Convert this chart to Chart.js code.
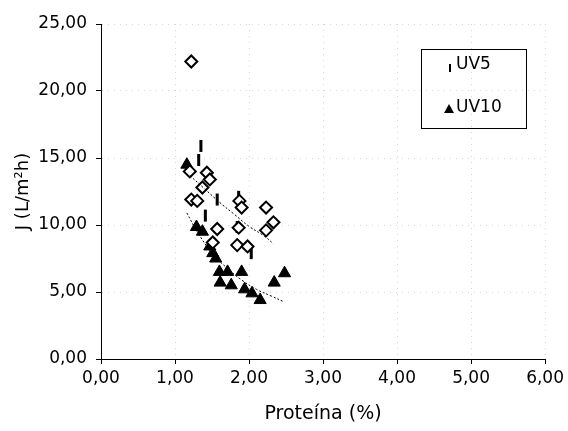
<!DOCTYPE html>
<html>
<head>
<meta charset="utf-8">
<script src="https://cdn.jsdelivr.net/npm/chart.js@4/dist/chart.umd.min.js"></script>
<style>
  html, body { margin: 0; padding: 0; background: #fff; }
  #wrap { width: 568px; height: 431px; }
</style>
</head>
<body>
<div id="wrap"><canvas id="fluxChart" width="568" height="431"></canvas></div>
<script>
// valores
const xTicks = [0, 1, 2, 3, 4, 5, 6];
const yTicks = [0, 5, 10, 15, 20, 25];

const protDiamond = [1.22, 1.20, 1.43, 1.47, 1.37, 1.22, 1.30, 1.87, 1.90, 2.23, 1.57, 1.86, 2.33, 2.23, 1.84, 1.98, 1.51];
const jDiamond    = [22.2, 14.0, 13.9, 13.4, 12.8, 11.9, 11.8, 11.8, 11.3, 11.3, 9.7, 9.8, 10.2, 9.6, 8.5, 8.4, 8.7];

const protUV5 = [1.35, 1.32, 1.57, 1.86, 1.41, 1.84, 2.03];
const jUV5    = [15.9, 14.85, 11.9, 12.1, 10.7, 9.85, 7.9];

const protUV10 = [1.16, 1.29, 1.37, 1.47, 1.51, 1.55, 1.60, 1.71, 1.90, 1.61, 1.76, 1.94, 2.04, 2.15, 2.34, 2.48];
const jUV10    = [14.5, 9.85, 9.5, 8.4, 7.9, 7.5, 6.5, 6.5, 6.5, 5.7, 5.5, 5.2, 4.9, 4.4, 5.7, 6.4];

// líneas de tendencia (puntos leídos sobre las curvas punteadas)
const protTrendUp = [1.2, 1.4, 1.6, 1.8, 2.0, 2.2, 2.33];
const jTrendUp    = [13.7, 12.7, 11.7, 10.8, 9.9, 9.2, 8.6];
const protTrendLow = [1.16, 1.3, 1.5, 1.7, 1.9, 2.1, 2.3, 2.48];
const jTrendLow    = [10.9, 9.5, 7.9, 6.8, 5.9, 5.2, 4.7, 4.25];

const pts = (xs, ys) => xs.map((x, i) => ({ x: x, y: ys[i] }));
const fmt = v => Number(v).toFixed(2).replace('.', ',');
const FONT = 'DejaVu Sans';

const legendBox = {
  id: 'legendBox',
  afterDraw(chart) {
    const ctx = chart.ctx;
    ctx.save();
    ctx.strokeStyle = '#000';
    ctx.lineWidth = 1;
    ctx.strokeRect(421.5, 49.5, 105, 79);
    // UV5
    ctx.lineWidth = 2;
    ctx.beginPath();
    ctx.moveTo(450, 64);
    ctx.lineTo(450, 72);
    ctx.stroke();
    // UV10
    ctx.fillStyle = '#000';
    ctx.beginPath();
    ctx.moveTo(449, 104);
    ctx.lineTo(454, 113);
    ctx.lineTo(444, 113);
    ctx.closePath();
    ctx.fill();
    ctx.font = '17px "' + FONT + '"';
    ctx.textBaseline = 'middle';
    ctx.textAlign = 'left';
    ctx.fillText('UV5', 456, 65);
    ctx.fillText('UV10', 456, 108);
    ctx.restore();
  }
};

new Chart(document.getElementById('fluxChart'), {
  type: 'scatter',
  data: {
    datasets: [
      {
        label: 'UV5 (tendencia)',
        data: pts(protTrendUp, jTrendUp),
        showLine: true,
        borderColor: '#000',
        borderWidth: 1,
        borderDash: [2, 2],
        pointRadius: 0,
        tension: 0.4,
        fill: false
      },
      {
        label: 'UV10 (tendencia)',
        data: pts(protTrendLow, jTrendLow),
        showLine: true,
        borderColor: '#000',
        borderWidth: 1,
        borderDash: [2, 2],
        pointRadius: 0,
        tension: 0.4,
        fill: false
      },
      {
        label: 'serie',
        data: pts(protDiamond, jDiamond),
        pointStyle: 'rectRot',
        pointRadius: 6,
        pointBorderWidth: 2,
        borderColor: '#000',
        backgroundColor: '#fff'
      },
      {
        label: 'UV5',
        data: pts(protUV5, jUV5),
        pointStyle: 'line',
        pointRotation: 90,
        pointRadius: 6,
        pointBorderWidth: 3,
        borderColor: '#000',
        backgroundColor: '#000'
      },
      {
        label: 'UV10',
        data: pts(protUV10, jUV10),
        pointStyle: 'triangle',
        pointRadius: 7,
        pointBorderWidth: 1,
        borderColor: '#000',
        backgroundColor: '#000'
      }
    ]
  },
  options: {
    responsive: false,
    animation: false,
    layout: { padding: { top: 24, right: 21, left: 0, bottom: 0 } },
    plugins: { legend: { display: false }, tooltip: { enabled: false } },
    scales: {
      x: {
        type: 'linear',
        min: 0,
        max: 6,
        afterBuildTicks: s => { s.ticks = xTicks.map(v => ({ value: v })); },
        afterFit: s => { s.height = 72; },
        ticks: {
          callback: fmt,
          color: '#000',
          padding: 4,
          font: { family: FONT, size: 17 }
        },
        grid: { color: '#d6d6d6', tickColor: '#000', tickLength: 5 },
        border: { color: '#000', width: 1, dash: [1, 5] },
        title: {
          display: true,
          text: 'Proteína (%)',
          color: '#000',
          font: { family: FONT, size: 19 },
          padding: { top: 4, bottom: 6 }
        }
      },
      y: {
        type: 'linear',
        min: 0,
        max: 25,
        afterBuildTicks: s => { s.ticks = yTicks.map(v => ({ value: v })); },
        afterFit: s => { s.width = 101; },
        ticks: {
          callback: fmt,
          color: '#000',
          padding: 9,
          font: { family: FONT, size: 17 }
        },
        grid: { color: '#d6d6d6', tickColor: '#000', tickLength: 5 },
        border: { color: '#000', width: 1, dash: [1, 5] },
        title: {
          display: true,
          text: 'J (L/m²h)',
          color: '#000',
          font: { family: FONT, size: 18 },
          padding: { top: 13, bottom: 4 }
        }
      }
    }
  },
  plugins: [legendBox]
});
</script>
</body>
</html>
